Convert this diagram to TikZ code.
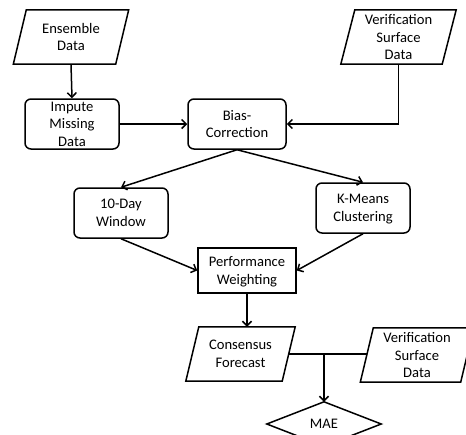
\documentclass[tikz,border=0pt]{standalone}
\usepackage{fontspec}
\setmainfont{Carlito}
\usetikzlibrary{arrows.meta}
\begin{document}
\begin{tikzpicture}[x=1pt,y=-1pt,
  font=\fontsize{14.6}{17.5}\selectfont,
  line/.style={line width=1.5pt, line join=miter},
  arr/.style={line, -{Straight Barb[length=4.5pt,width=9pt,line width=1.5pt]}},
  base/.style={align=center, inner sep=0pt, text depth=0pt},
  rbox/.style={base, draw, line width=1.5pt, rounded corners=6pt},
  sbox/.style={base, draw, line width=1.5pt},
  ghost/.style={base, draw=none}]
\useasboundingbox (0,0) rectangle (466,434);
\clip (0,0) rectangle (466,434);
\fill[white] (0,0) rectangle (466,434);

\node[ghost, minimum width=102pt, minimum height=54pt] (ens) at (71,37) {Ensemble\\Data};
\node[ghost, minimum width=101pt, minimum height=54pt] (ver1) at (398.5,37) {Verification\\Surface\\Data};
\node[rbox, minimum width=94pt, minimum height=50pt] (imp) at (72,124) {Impute\\Missing\\Data};
\node[rbox, minimum width=98pt, minimum height=50pt] (bias) at (237,124) {Bias-\\Correction};
\node[rbox, minimum width=94pt, minimum height=50pt] (win) at (121,213) {10-Day\\Window};
\node[rbox, minimum width=94pt, minimum height=50pt] (km) at (363,208) {K-Means\\Clustering};
\node[sbox, minimum width=98pt, minimum height=45pt] (perf) at (247,270.5) {Performance\\Weighting};
\node[ghost, minimum width=96pt, minimum height=54pt] (cons) at (240.5,354) {Consensus\\Forecast};
\node[ghost, minimum width=100pt, minimum height=54pt] (ver2) at (417,355) {Verification\\Surface\\Data};
\node[ghost, minimum width=114pt, minimum height=44pt] (mae) at (324,424) {MAE};

\foreach \n/\s in {ens/6.5, ver1/7, cons/6.5, ver2/6.5}{
  \draw[line] ([xshift=\s pt]\n.north west) -- ([xshift=\s pt]\n.north east)
    -- ([xshift=-\s pt]\n.south east) -- ([xshift=-\s pt]\n.south west) -- cycle;
}
\draw[line] (mae.north) -- (mae.east) -- (mae.south) -- (mae.west) -- cycle;

\coordinate (vc) at (ver1.south |- bias.east);
\coordinate (j) at (mae.north |- cons.east);

\draw[arr] (ens.south) -- (imp.north);
\draw[arr] (imp.east) -- (bias.west);
\draw[arr] (ver1.south) -- (vc) -- (bias.east);
\draw[arr] (bias.south) -- (win.north);
\draw[arr] (bias.south) -- (km.north);
\draw[arr] (win.south) -- (perf.west);
\draw[arr] (km.south) -- (perf.east);
\draw[arr] (perf.south) -- (perf.south |- cons.north);
\draw[line] (cons.east) -- (ver2.west |- cons.east);
\draw[arr] (j) -- (mae.north);
\end{tikzpicture}
\end{document}
